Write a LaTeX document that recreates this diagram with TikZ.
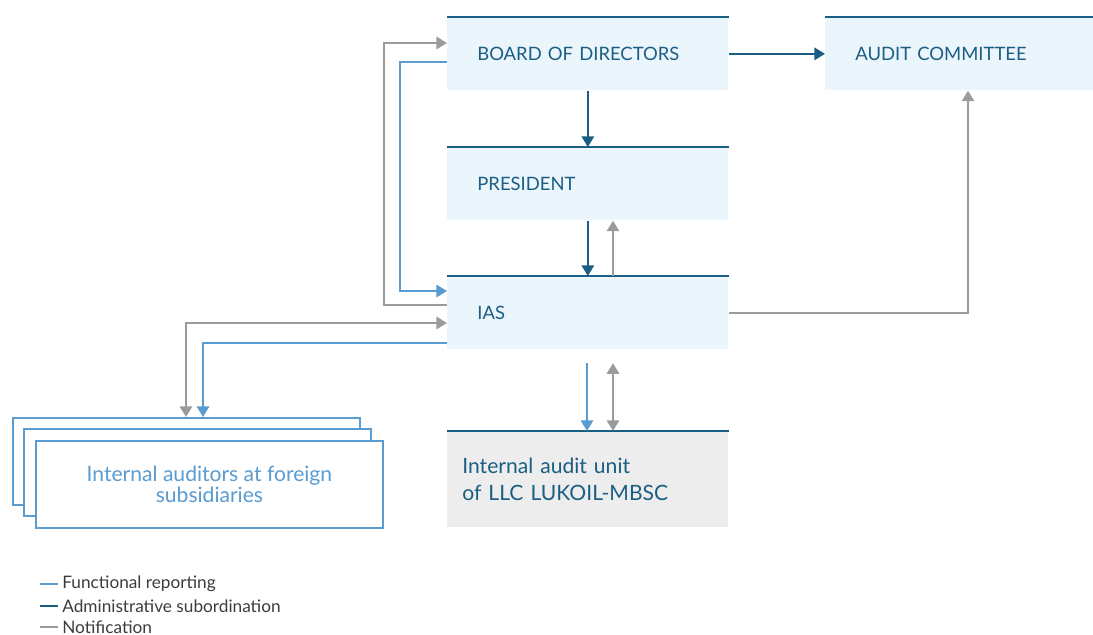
\documentclass[tikz,border=0pt]{standalone}
\usepackage{fontspec}
\setmainfont{Lato}
\usetikzlibrary{arrows.meta,positioning}
\definecolor{admblue}{HTML}{1B5E84}
\definecolor{funcblue}{HTML}{5A9BD0}
\definecolor{notgray}{HTML}{9B9B9B}
\definecolor{boxfill}{HTML}{EBF5FC}
\definecolor{unitfill}{HTML}{EDEDED}
\definecolor{legtext}{HTML}{3C3C3C}

\begin{document}
\begin{tikzpicture}[x=0.02cm,y=-0.02cm,>={Triangle[width=7pt,length=6pt]},
  box/.style={anchor=north west,fill=boxfill,text=admblue,minimum width=5.62cm,
    minimum height=1.46cm,text width=4.42cm,align=left,inner xsep=0.6cm,inner ysep=0pt,
    font=\fontsize{10.5}{12}\selectfont},
  audbox/.style={anchor=north west,draw=funcblue,fill=white,line width=1.1pt,
    minimum width=6.94cm,minimum height=1.74cm,text=funcblue,align=center,
    font=\fontsize{12}{12}\selectfont},
  topline/.style={draw=admblue,line width=1.1pt},
  admin/.style={draw=admblue,line width=1.1pt},
  func/.style={draw=funcblue,line width=1.1pt},
  notif/.style={draw=notgray,line width=1.1pt},
  legend/.style={anchor=west,text=legtext,inner xsep=0pt,font=\fontsize{9.8}{10}\selectfont}]
\useasboundingbox (0,0) rectangle (1093,635);

% boxes
\node[box] (board) at (447,17) {BOARD OF DIRECTORS};
\node[box,minimum width=5.36cm,text width=4.16cm] (audit) at (825,17) {AUDIT COMMITTEE};
\node[box] (pres) at (447,147) {PRESIDENT};
\node[box] (ias) at (447,276) {IAS};
\node[box,fill=unitfill,minimum height=1.92cm,text width=5.02cm,inner xsep=0.3cm,
  font=\fontsize{12}{15}\selectfont] (unit) at (447,431) {Internal audit unit\\of LLC LUKOIL-MBSC};
\foreach \n in {board,audit,pres,ias,unit}
  \draw[topline] (\n.north west) -- (\n.north east);

% stacked boxes of the subsidiaries
\node[audbox] (aud3) at (12,417) {};
\node[audbox] (aud2) at (23,428) {};
\node[audbox] (aud1) at (35,440) {Internal auditors at foreign\\subsidiaries};

% administrative subordination
\draw[admin,->] (board) -- (audit);
\draw[admin,->] (board) -- (pres);
\draw[admin,->] (pres) -- (ias);

% functional reporting
\draw[func,->] (board.west |- 0,62) -- (400,62) |- (ias.west |- 0,291);
\draw[func,->] (ias.west |- 0,343) -| (aud3.north -| 203,0);
\draw[func,->,shorten <=7\pgflinewidth] (ias.south -| 587,0) -- (unit.north -| 587,0);

% notification
\draw[notif,->] (ias.north -| 613,0) -- (pres.south -| 613,0);
\draw[notif,->] (ias.east) -| (audit.south -| 968,0);
\draw[notif,->] (ias.west |- 0,305) -- (384,305) |- (board.west |- 0,43);
\draw[notif,<->] (aud3.north -| 186,0) |- (ias.west |- 0,323);
\draw[notif,<->,shorten <=7\pgflinewidth] (ias.south -| 613,0) -- (unit.north -| 613,0);

% legend
\node[legend] (lfunc) at (62,584) {Functional reporting};
\node[legend] (ladmin) at (62,606) {Administrative subordination};
\node[legend] (lnotif) at (62,627) {Notification};
\draw[func] ([xshift=-2pt]lfunc.west) -- ++(-18,0);
\draw[admin] ([xshift=-2pt]ladmin.west) -- ++(-18,0);
\draw[notif] ([xshift=-2pt]lnotif.west) -- ++(-18,0);
\end{tikzpicture}
\end{document}
